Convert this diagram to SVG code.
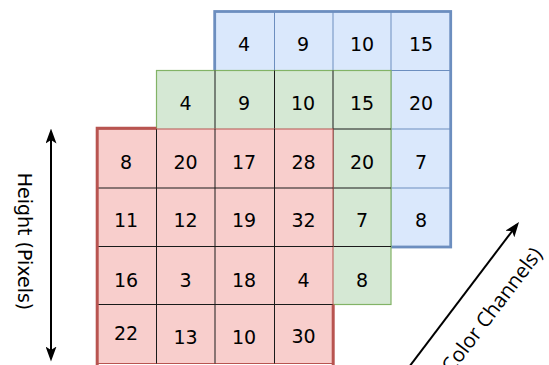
<svg xmlns="http://www.w3.org/2000/svg" width="549" height="365" viewBox="0 0 549 365">
<style>
text{font-family:"DejaVu Sans","Verdana",sans-serif;font-size:19px;fill:#000;text-anchor:middle}
.lbl2{font-family:"Open Sans","Noto Sans",sans-serif;font-size:20.5px}
.bl{stroke:#6c8ebf;stroke-width:1;fill:none}
.ink{stroke:#1a1a1a;stroke-width:1;fill:none}
.arr{stroke:#000;stroke-width:2;fill:none}
</style>
<defs>
<marker id="ah" markerUnits="userSpaceOnUse" viewBox="0 0 15 11" markerWidth="15" markerHeight="11" refX="11" refY="5.5" orient="auto-start-reverse">
<path d="M0,0 L15,5.5 L0,11 L3.5,5.5 Z" fill="#000"/>
</marker>
</defs>
<rect width="549" height="365" fill="#fff"/>
<g id="grid-blue">
<rect x="214.7" y="11.5" width="236" height="235.5" fill="#dae8fc" stroke="#6c8ebf" stroke-width="2.8"/>
<path class="bl" d="M274.5,11.5V70.5M333,11.5V70.5M391,11.5V247M391,70.5H450.5M391,129H450.5M391,188H450.5"/>
<text x="244" y="50.5">4</text>
<text x="303" y="50.5">9</text>
<text x="362" y="50.5">10</text>
<text x="421" y="50.5">15</text>
<text x="421" y="110.3">20</text>
<text x="421" y="168.6">7</text>
<text x="421" y="227">8</text>
</g>
<g id="grid-green">
<rect x="156.5" y="70.5" width="234.5" height="234" fill="#d5e8d4" stroke="#82b366" stroke-width="1.2"/>
<path class="ink" d="M215,70.5V129M274.5,70.5V129M333,70.5V246.5M333,129H391M333,188H391M333,246.5H391"/>
<text x="185.5" y="110.3">4</text>
<text x="244" y="110.3">9</text>
<text x="303" y="110.3">10</text>
<text x="362" y="110.3">15</text>
<text x="362" y="168.6">20</text>
<text x="362" y="227">7</text>
<text x="362" y="287">8</text>
</g>
<g id="grid-red">
<rect x="97" y="129" width="236" height="234.5" fill="#f8cecc" stroke="#b85450" stroke-width="1"/>
<path class="ink" d="M156.5,129V363.5M215,129V363.5M274.5,129V363.5M97,188H333M97,246.5H333M97,304.5H333"/>
<path d="M97.2,366V128.2H156.5M333.2,304.5V366" fill="none" stroke="#b85450" stroke-width="3"/>
<text x="126" y="168.6">8</text>
<text x="185.5" y="168.6">20</text>
<text x="244" y="168.6">17</text>
<text x="303.5" y="168.6">28</text>
<text x="126" y="227">11</text>
<text x="185.5" y="227">12</text>
<text x="244" y="227">19</text>
<text x="303.5" y="227">32</text>
<text x="126" y="287">16</text>
<text x="185.5" y="287">3</text>
<text x="244" y="287">18</text>
<text x="303.5" y="287">4</text>
<text x="126" y="340.2">22</text>
<text x="185.5" y="344">13</text>
<text x="244" y="344">10</text>
<text x="303.5" y="343.3">30</text>
</g>
<g id="label-height">
<text transform="translate(17.5,241.5) rotate(90)">Height (Pixels)</text>
</g>
<g id="label-channels">
<text class="lbl2" style="text-anchor:end" transform="translate(543.1,254.3) rotate(-52.8)">(Color Channels)</text>
</g>
<g id="connectors">
<path class="arr" d="M51,132.5V357.5" marker-start="url(#ah)" marker-end="url(#ah)"/>
<path class="arr" d="M404.2,373.4L516.6,225.2" marker-end="url(#ah)"/>
</g>
</svg>
